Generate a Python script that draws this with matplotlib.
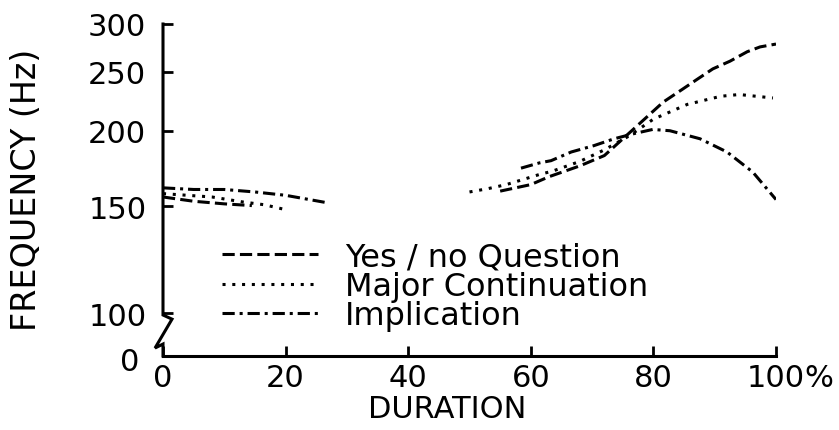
import matplotlib
matplotlib.use("Agg")
import matplotlib.pyplot as plt
from matplotlib.ticker import NullLocator, FixedLocator, FixedFormatter

# ---- data (percent of duration, frequency in Hz) ----
yes_x1 = [0, 5, 10, 14.5]
yes_y1 = [155.5, 153, 151.5, 150.5]
yes_x2 = [55, 60, 63, 68, 72, 76.7, 81.6, 84.7, 87.1, 89.7, 92.5, 95.3, 97.4, 100]
yes_y2 = [159, 163, 168, 175, 182, 201, 223, 234, 243, 253, 260.5, 270, 275, 278]

maj_x1 = [0, 8, 13, 16.5, 19.5]
maj_y1 = [157.5, 155.5, 152.6, 151, 148.6]
maj_x2 = [50, 53, 56, 59, 61.5, 63.5, 68, 72, 76, 80, 85.5, 91, 94, 99.5]
maj_y2 = [158.5, 160.5, 163, 166.5, 169.5, 171.5, 178, 186, 196, 209, 221, 228, 229.5, 226.5]

imp_x1 = [0, 5, 10, 15, 20, 27]
imp_y1 = [161, 160, 160, 158.5, 156.5, 152]
imp_x2 = [58.4, 61.4, 63.3, 66.6, 70.3, 73.6, 77, 79.9, 82.7, 87.6, 92, 96.2, 100]
imp_y2 = [173.5, 177, 178.5, 184.5, 189, 194, 198, 201, 200, 194, 184.5, 171, 154]

labels = ["Yes / no Question", "Major Continuation", "Implication"]
x_ticks = [0, 20, 40, 60, 80, 100]
x_ticklabels = ["0", "20", "40", "60", "80", "100"]
y_ticks = [100, 150, 200, 250, 300]
y_ticklabels = ["100", "150", "200", "250", "300"]

plt.rcParams['font.family'] = ['DejaVu Sans']
FS = 22
fig = plt.figure(figsize=(8.39, 4.31), dpi=100)
ax = fig.add_axes([163/839, 74/431, 613/839, 332/431])

LW = 2.2
styles = {
    0: dict(dashes=(4, 1.7)),
    1: dict(dashes=(1, 2.2)),
    2: dict(dashes=(4, 1.6, 1, 1.6)),
}
series = [(yes_x1, yes_y1, yes_x2, yes_y2),
          (maj_x1, maj_y1, maj_x2, maj_y2),
          (imp_x1, imp_y1, imp_x2, imp_y2)]
handles = []
for i, (x1, y1, x2, y2) in enumerate(series):
    ax.plot(x1, y1, color='black', lw=LW, **styles[i])
    h, = ax.plot(x2, y2, color='black', lw=LW, label=labels[i], **styles[i])
    handles.append(h)

ax.set_yscale('log')
ax.set_xlim(0, 100)
ax.set_ylim(85, 300)
ax.yaxis.set_major_locator(FixedLocator(y_ticks))
ax.yaxis.set_major_formatter(FixedFormatter(y_ticklabels))
ax.yaxis.set_minor_locator(NullLocator())
ax.xaxis.set_major_locator(FixedLocator(x_ticks))
ax.xaxis.set_major_formatter(FixedFormatter(x_ticklabels))

for s in ['top', 'right', 'left']:
    ax.spines[s].set_visible(False)
ax.spines['bottom'].set_linewidth(2.2)
ax.tick_params(axis='both', direction='in', length=7, width=2, labelsize=FS)
ax.tick_params(axis='x', pad=5)
ax.tick_params(axis='y', pad=12)

# left axis line with break
bx = [0, 0, 0.0147, -0.013, 0, 0]
by = [1, 0.1235, 0.111, 0.024, 0.036, 0]
ax.plot(bx, by, transform=ax.transAxes, color='black', lw=2.2, clip_on=False,
        solid_joinstyle='miter')

ax.text(-0.054, -0.018, "0", transform=ax.transAxes, ha='center', va='center', fontsize=FS)
ax.text(1.046, -0.066, "%", transform=ax.transAxes, ha='left', va='center', fontsize=FS)

fig.text(27/839, 0.56, "FREQUENCY (Hz)", rotation=90, ha='center', va='center', fontsize=24)
fig.text(447/839, 0.050, "DURATION", ha='center', va='center', fontsize=FS)

ax.legend(handles=handles, loc='upper left', bbox_to_anchor=(0.096, 0.345),
          frameon=False, fontsize=23, handlelength=3.0, handletextpad=0.85,
          labelspacing=-0.05, borderpad=0, borderaxespad=0)

fig.savefig("out.png", dpi=100)
